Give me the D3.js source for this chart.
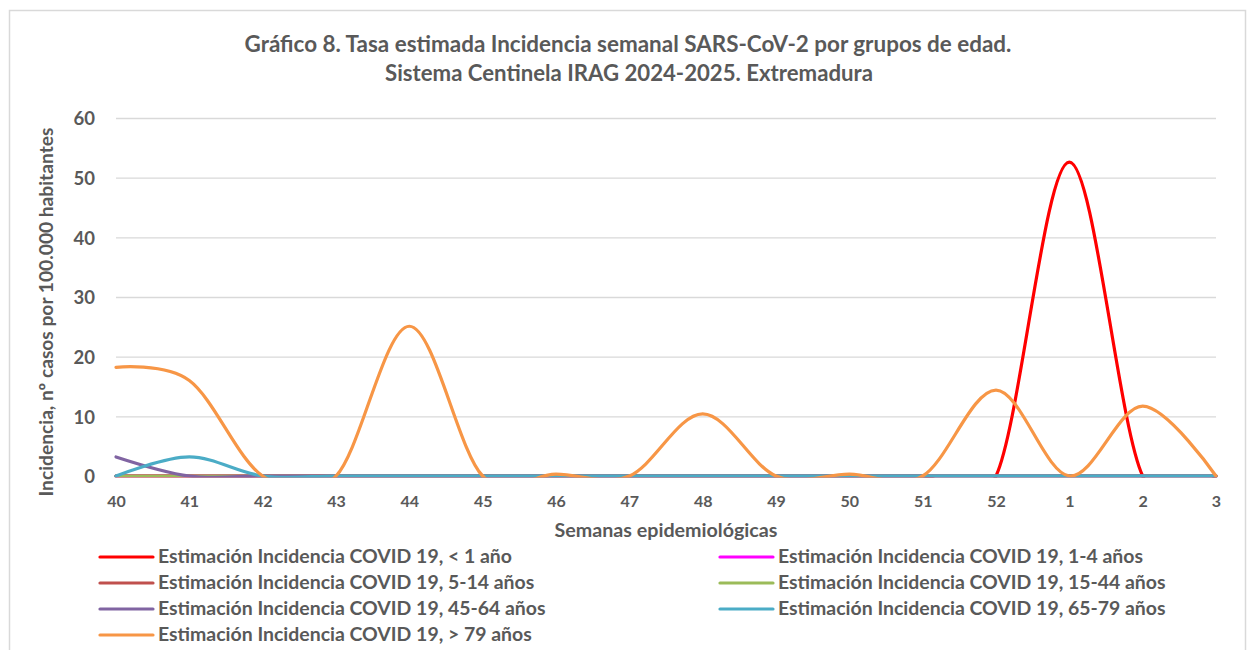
<!DOCTYPE html>
<html><head><meta charset="utf-8">
<script src="https://cdn.jsdelivr.net/npm/d3@7"></script>
<style>
html,body{margin:0;padding:0;background:#fff;}
text{font-family:Lato,"Open Sans",sans-serif;font-weight:bold;fill:#595959;}
</style></head>
<body><svg id="c" width="1247" height="650"></svg>
<script>
const weeks = ["40","41","42","43","44","45","46","47","48","49","50","51","52","1","2","3"];
const yTicks = [0,10,20,30,40,50,60];
const seriesNames = [
  "Estimación Incidencia COVID 19, < 1 año",
  "Estimación Incidencia COVID 19, 1-4 años",
  "Estimación Incidencia COVID 19, 5-14 años",
  "Estimación Incidencia COVID 19, 15-44 años",
  "Estimación Incidencia COVID 19, 45-64 años",
  "Estimación Incidencia COVID 19, 65-79 años",
  "Estimación Incidencia COVID 19, > 79 años"
];
const seriesColors = ["#FF0000","#FF00FF","#C0504D","#9BBB59","#8064A2","#4BACC6","#F79646"];
const vLt1   = [0,0,0,0,0,0,0,0,0,0,0,0,0,52.6,0,0];
const v1_4   = [0,0,0,0,0,0,0,0,0,0,0,0,0,0,0,0];
const v5_14  = [0,0,0,0,0,0,0,0,0,0,0,0,0,0,0,0];
const v15_44 = [0,0,0,0,0,0,0,0,0,0,0,0,0,0,0,0];
const v45_64 = [3.2,0,0,0,0,0,0,0,0,0,0,0,0,0,0,0];
const v65_79 = [0,3.2,0,0,0,0,0,0,0,0,0,0,0,0,0,0];
const vGt79  = [18.2,16.0,0,0,25.1,0,0.3,0,10.4,0,0.3,0,14.4,0,11.7,0];
const seriesValues = [vLt1,v1_4,v5_14,v15_44,v45_64,v65_79,vGt79];

const titleLines = ["Gráfico 8. Tasa estimada Incidencia semanal SARS-CoV-2 por grupos de edad.",
                    "Sistema Centinela IRAG 2024-2025. Extremadura"];
const yTitle = "Incidencia, nº casos por 100.000 habitantes";
const xTitle = "Semanas epidemiológicas";

const svg = d3.select("#c");
function fit(sel, w){
  const node = sel.node();
  const fs = parseFloat(sel.attr("font-size"));
  const cur = node.getComputedTextLength();
  sel.attr("font-size", (fs*w/cur).toFixed(2));
}
// frame
svg.append("rect").attr("x",9.5).attr("y",10.5).attr("width",1236).attr("height",660)
  .attr("fill","#fff").attr("stroke","#d9d9d9").attr("stroke-width",1.5);

const x = d3.scalePoint().domain(weeks).range([116,1216]);
const y = d3.scaleLinear().domain([0,60]).range([476,118]);

// title
const t1 = svg.append("text").attr("x",628).attr("y",52).attr("text-anchor","middle").attr("font-size",19).text(titleLines[0]);
fit(t1,767);
const t2 = svg.append("text").attr("x",629).attr("y",81).attr("text-anchor","middle").attr("font-size",19).text(titleLines[1]);
fit(t2,488);

// gridlines
const yAxis = d3.axisLeft(y).tickValues(yTicks).tickSize(-(1216-116)).tickPadding(21).tickFormat(d3.format("d"));
const ga = svg.append("g").attr("transform","translate(116,0)").call(yAxis);
ga.select(".domain").remove();
ga.selectAll(".tick line").attr("stroke","#d9d9d9").attr("stroke-width",1.3);
ga.selectAll(".tick text").attr("font-size",18.5).attr("fill","#595959").attr("dy","0.36em")
  .style("font-family","Lato,sans-serif").style("font-weight","bold");

const xAxis = d3.axisBottom(x).tickSize(0).tickPadding(20);
const gx = svg.append("g").attr("transform","translate(0,476)").call(xAxis);
gx.select(".domain").remove();
gx.selectAll(".tick text").attr("font-size",16).attr("fill","#595959")
  .style("font-family","Lato,sans-serif").style("font-weight","bold");

// axis titles
const yt = svg.append("text").attr("transform","translate(53,312) rotate(-90)").attr("text-anchor","middle").attr("font-size",17).text(yTitle);
fit(yt,369);
const xt = svg.append("text").attr("x",666).attr("y",537).attr("text-anchor","middle").attr("font-size",17).text(xTitle);
fit(xt,223);

// clip (plot area clips values below 0)
svg.append("clipPath").attr("id","pa").append("rect").attr("x",100).attr("y",100).attr("width",1130).attr("height",377.6);

const line = d3.line().defined(d=>d!=null).x((d,i)=>x(weeks[i])).y(d=>y(d)).curve(d3.curveCatmullRom.alpha(0));
const gl = svg.append("g").attr("clip-path","url(#pa)");
seriesValues.forEach((vals,k)=>{
  gl.append("path").attr("d",line(vals)).attr("fill","none").attr("stroke",seriesColors[k])
    .attr("stroke-width",3.2).attr("stroke-linejoin","round").attr("stroke-linecap","round");
});

// legend
const legPos = [[100,557],[720,557],[100,583],[720,583],[100,609],[720,609],[100,635]];
seriesNames.forEach((n,k)=>{
  const [lx,ly] = legPos[k];
  svg.append("line").attr("x1",lx).attr("x2",lx+53).attr("y1",ly).attr("y2",ly)
    .attr("stroke",seriesColors[k]).attr("stroke-width",3.2).attr("stroke-linecap","round");
  svg.append("text").attr("class","leg").attr("x",lx+58).attr("y",ly+6).attr("font-size",16.5).text(n);
});
const lt = svg.select("text.leg");
const w0 = lt.node().getComputedTextLength();
const fsL = 16.5*354/w0;
svg.selectAll("text.leg").attr("font-size",fsL.toFixed(2));
</script></body></html>
